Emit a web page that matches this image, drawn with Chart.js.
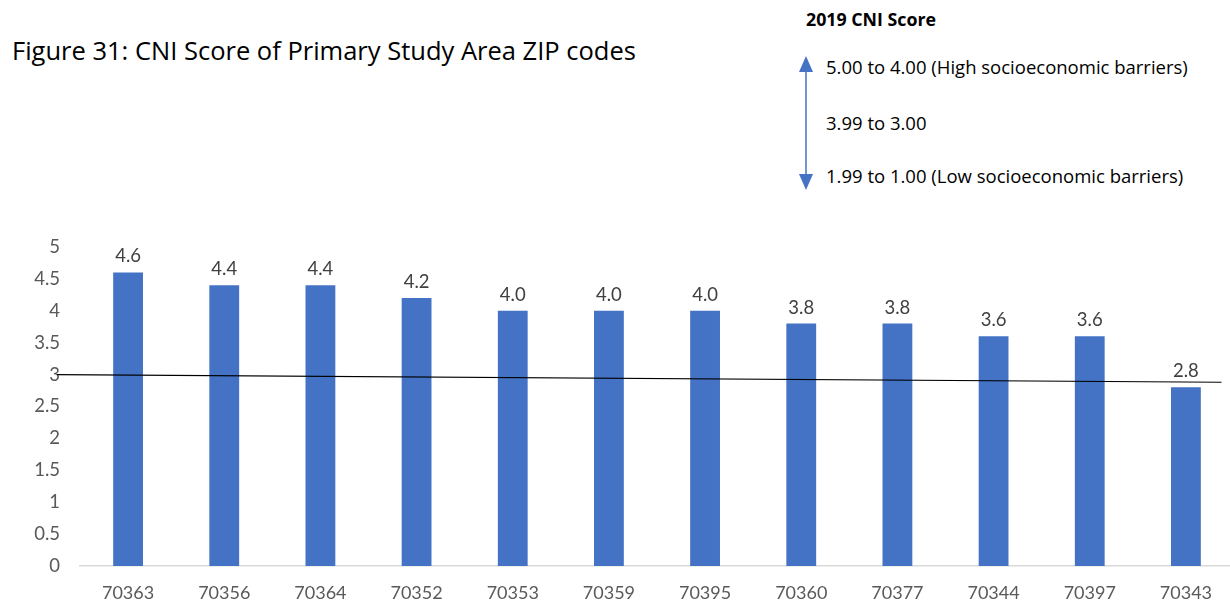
<!DOCTYPE html>
<html>
<head>
<meta charset="utf-8">
<script src="https://cdn.jsdelivr.net/npm/chart.js@4/dist/chart.umd.min.js"></script>
<style>
  html, body { margin: 0; padding: 0; background: #fff; overflow: hidden; }
  body { width: 1230px; height: 603px; position: relative; font-family: "Open Sans", sans-serif; }
  #title { position: absolute; left: 12px; top: 38px; font-size: 25.5px; line-height: 25.5px; color: #000; white-space: nowrap; }
  #legendTitle { position: absolute; left: 806px; top: 10px; font-size: 17.8px; line-height: 18px; font-weight: bold; color: #000; white-space: nowrap; }
  .legendItem { position: absolute; left: 826px; font-size: 18.5px; line-height: 18.5px; color: #000; white-space: nowrap; }
  #arrow { position: absolute; left: 794px; top: 52px; }
  #chartBox { position: absolute; left: 0; top: 0; width: 1236px; height: 603px; }
</style>
</head>
<body>
<div id="title">Figure 31: CNI Score of Primary Study Area ZIP codes</div>
<div id="legendTitle">2019 CNI Score</div>
<div class="legendItem" style="top:58px">5.00 to 4.00 (High socioeconomic barriers)</div>
<div class="legendItem" style="top:114px">3.99 to 3.00</div>
<div class="legendItem" style="top:167px">1.99 to 1.00 (Low socioeconomic barriers)</div>
<svg id="arrow" width="24" height="142">
  <line x1="12" y1="14" x2="12" y2="124" stroke="#4472C4" stroke-width="1.5"/>
  <polygon points="12,4 5,20 19,20" fill="#4472C4"/>
  <polygon points="12,138 5,122 19,122" fill="#4472C4"/>
</svg>
<div id="chartBox"><canvas id="cniChart"></canvas></div>
<script>
// ZIP codes and their CNI scores
const zipCodes = ["70363", "70356", "70364", "70352", "70353", "70359", "70395",
  "70360", "70377", "70344", "70397", "70343"];
const cniScores = [4.6, 4.4, 4.4, 4.2, 4.0, 4.0, 4.0, 3.8, 3.8, 3.6, 3.6, 2.8];
const yTicks = [0, 0.5, 1, 1.5, 2, 2.5, 3, 3.5, 4, 4.5, 5];

// reference line (x in category index units, y in score units)
const refLineX = [-0.74, 11.37];
const refLineY = [3.0, 2.88];

// value labels above each bar
const barLabels = {
  id: "barLabels",
  afterDatasetsDraw(chart) {
    const ctx = chart.ctx;
    const meta = chart.getDatasetMeta(0);
    ctx.save();
    ctx.font = "18.5px Lato, 'Open Sans', sans-serif";
    ctx.fillStyle = "#404040";
    ctx.textAlign = "center";
    ctx.textBaseline = "middle";
    meta.data.forEach(function(bar, i) {
      ctx.fillText(cniScores[i].toFixed(1), bar.x, bar.y - 16);
    });
    ctx.restore();
  }
};

// thin black line across the chart
const refLine = {
  id: "refLine",
  afterDatasetsDraw(chart) {
    const x = chart.scales.x, y = chart.scales.y;
    const ctx = chart.ctx;
    ctx.save();
    ctx.strokeStyle = "#000";
    ctx.lineWidth = 1.2;
    ctx.beginPath();
    ctx.moveTo(x.getPixelForValue(refLineX[0]), y.getPixelForValue(refLineY[0]));
    ctx.lineTo(x.getPixelForValue(refLineX[1]), y.getPixelForValue(refLineY[1]));
    ctx.stroke();
    ctx.restore();
  }
};

new Chart(document.getElementById("cniChart"), {
  type: "bar",
  data: {
    labels: zipCodes,
    datasets: [{
      data: cniScores,
      backgroundColor: "#4472C4",
      barPercentage: 0.31,
      categoryPercentage: 1
    }]
  },
  options: {
    responsive: true,
    maintainAspectRatio: false,
    animation: false,
    layout: { padding: { top: 247, right: 2, left: 0, bottom: 0 } },
    plugins: { legend: { display: false }, tooltip: { enabled: false } },
    scales: {
      x: {
        grid: { display: false, drawTicks: false },
        border: { display: true, color: "#d9d9d9", width: 1.5 },
        ticks: { color: "#595959", font: { family: "Lato", size: 18 }, padding: 16, maxRotation: 0 },
        afterFit(scale) { scale.height = 37; }
      },
      y: {
        min: 0,
        max: 5,
        afterBuildTicks(scale) { scale.ticks = yTicks.map(v => ({ value: v })); },
        grid: { display: false, drawTicks: false },
        border: { display: false },
        ticks: {
          color: "#595959",
          font: { family: "Lato", size: 18.5 },
          padding: 20,
          callback: v => String(v)
        },
        afterFit(scale) { scale.width = 80; }
      }
    }
  },
  plugins: [barLabels, refLine]
});
</script>
</body>
</html>
